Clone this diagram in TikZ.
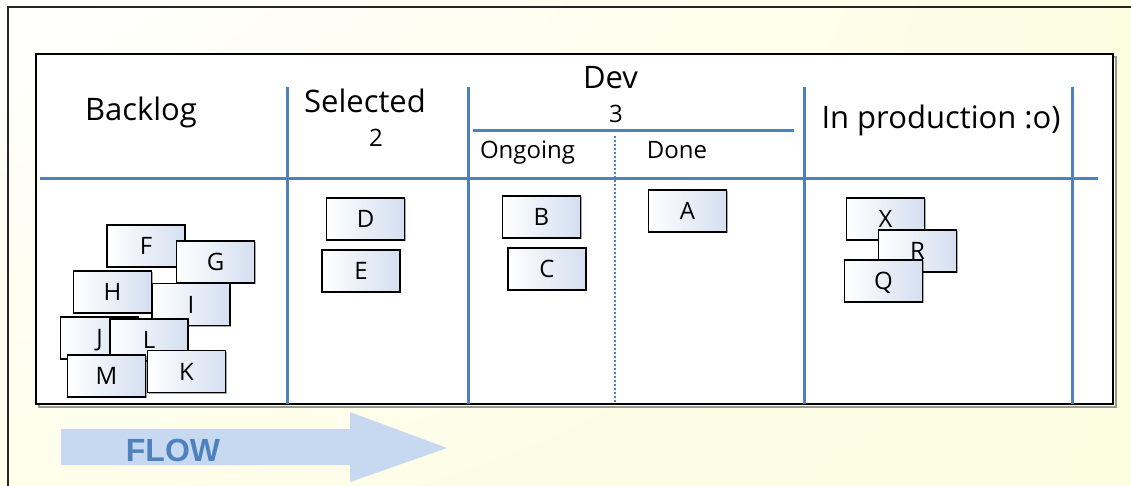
\documentclass[tikz,border=0pt]{standalone}
\usepackage{fontspec}
\setmainfont{Open Sans}
\newfontfamily\flowfont{Liberation Sans}
\usetikzlibrary{shadows,shadings}
\definecolor{boardblue}{RGB}{79,129,189}
\definecolor{arrowblue}{RGB}{198,217,240}
\definecolor{cardshade}{RGB}{212,223,240}
\definecolor{cream}{RGB}{253,253,226}
\begin{document}
\begin{tikzpicture}[x=1pt,y=-1pt,
  card/.style={draw=black, line width=1.4pt, left color=white, right color=cardshade,
    minimum width=78pt, minimum height=42pt, inner sep=0pt,
    text height=17pt, text depth=0pt, font=\fontsize{24}{24}\selectfont,
    drop shadow={shadow xshift=1.2pt, shadow yshift=-1.2pt, fill=black, opacity=.35}},
  lane/.style={draw=boardblue, line width=3pt},
  head/.style={anchor=base, inner sep=0pt, font=\fontsize{31}{31}\selectfont},
  subhead/.style={anchor=base, inner sep=0pt, font=\fontsize{24}{24}\selectfont},
]
% page and background
\useasboundingbox (0,0) rectangle (1131,485);
\shade[upper left=white, upper right=cream, lower left=cream!70!white, lower right=cream]
  (0,0) rectangle (1131,485);
\draw[black!85, line width=1.3pt] (8,7) rectangle (1160,510);

% board
\draw[black!40, line width=2pt] (38.5,56.5) rectangle (1115.5,406.5);
\draw[fill=white, line width=1.6pt] (36,54) rectangle (1113,404);

% lanes
\draw[lane] (40,178) -- (1098,178);
\draw[lane] (287,87) -- (287,404);
\draw[lane] (468,87) -- (468,404);
\draw[lane] (804,87) -- (804,404);
\draw[lane] (1072,87) -- (1072,404);
\draw[lane] (473,130) -- (794,130);
\draw[boardblue, line width=2pt, dotted] (615,136) -- (615,404);

% column headings
\node[head] (backlog) at (141,120.5) {Backlog};
\node[head] (selected) at (365,112) {Selected};
\node[subhead] (wipsel) at (376,146) {2};
\node[head] (dev) at (610.5,88) {Dev};
\node[subhead] (wipdev) at (616,122) {3};
\node[subhead] (ongoing) at (527.5,158) {Ongoing};
\node[subhead] (done) at (677,158) {Done};
\node[head] (prod) at (941,128) {In production :o)};

% backlog cards
\node[card] (F) at (146,246) {F};
\node[card] (G) at (215.5,262) {G};
\node[card] (H) at (112.5,292) {H};
\node[card] (I) at (191,304.5) {I};
\node[card] (J) at (99.5,338) {J};
\node[card] (L) at (149,340) {L};
\node[card] (M) at (106.5,376) {M};
\node[card] (K) at (186.5,371.5) {K};

% selected
\node[card] (D) at (365.5,219) {D};
\node[card] (E) at (361,271) {E};

% dev
\node[card] (B) at (541.5,217) {B};
\node[card] (C) at (547,269) {C};
\node[card] (A) at (687.5,211) {A};

% in production
\node[card] (X) at (885.5,219) {X};
\node[card] (R) at (917.5,251) {R};
\node[card] (Q) at (883.5,281) {Q};

% flow arrow
\fill[arrowblue] (61,429) -- (350,429) -- (350,412) -- (447,448) -- (350,482)
  -- (350,465) -- (61,465) -- cycle;
\node[anchor=base, inner sep=0pt, text=boardblue, font=\flowfont\bfseries\fontsize{32}{32}\selectfont]
  (flow) at (173,461) {FLOW};
\end{tikzpicture}
\end{document}
